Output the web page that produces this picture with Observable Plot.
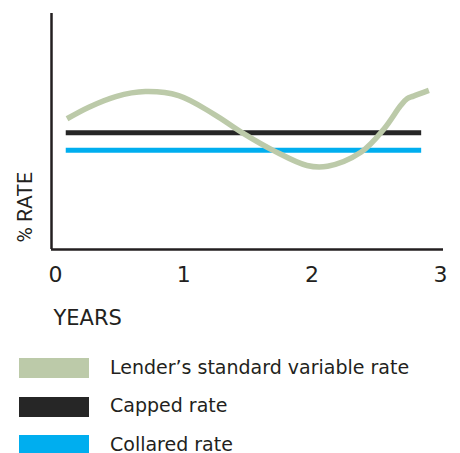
<!DOCTYPE html>
<html>
<head>
<meta charset="utf-8">
<script src="https://cdn.jsdelivr.net/npm/d3@7"></script>
<script src="https://cdn.jsdelivr.net/npm/@observablehq/plot@0.6"></script>
<style>
  html, body { margin: 0; padding: 0; background: #fff; }
  body { width: 460px; height: 453px; overflow: hidden; font-family: "DejaVu Sans", sans-serif; color: #231f20; }
  #legend { margin-top: 13px; }
  .row { display: flex; align-items: center; height: 20px; margin-bottom: 18.5px; }
  .row:last-child { margin-bottom: 0; }
  .sw { width: 70px; height: 20px; margin-left: 19px; margin-right: 21px; flex: none; }
  .lab { font-size: 19px; line-height: 15px; position: relative; top: -1px; }
</style>
</head>
<body>
<div id="chart"></div>
<div id="legend"></div>
<script>
// Data (rate in arbitrary units, 0–10 on the axis)
const seriesNames = ["Lender’s standard variable rate", "Capped rate", "Collared rate"];
const seriesColors = ["#bccaa9", "#262626", "#00aeef"];
const xTicks = [0, 1, 2, 3];

const svrYears = [0.09, 0.26, 0.47, 0.70, 0.96, 1.23, 1.47, 1.70, 1.96, 2.12, 2.38, 2.56, 2.69, 2.74, 2.79, 2.91];
const svrRates = [5.54, 6.03, 6.48, 6.69, 6.52, 5.75, 4.90, 4.19, 3.56, 3.53, 4.12, 5.11, 6.10, 6.39, 6.50, 6.74];

const cappedYears = [0.08, 2.85];
const cappedRates = [4.95, 4.95];

const collaredYears = [0.08, 2.85];
const collaredRates = [4.21, 4.21];

const svr = svrYears.map((x, i) => ({year: x, rate: svrRates[i]}));
const capped = cappedYears.map((x, i) => ({year: x, rate: cappedRates[i]}));
const collared = collaredYears.map((x, i) => ({year: x, rate: collaredRates[i]}));

const xMin = -0.031, xMax = 3.024;
const font = "'DejaVu Sans', sans-serif";
const ink = "#231f20";

const chart = Plot.plot({
  width: 460,
  height: 345,
  marginLeft: 51,
  marginRight: 17,
  marginTop: 13,
  marginBottom: 96,
  style: {fontFamily: font, color: ink, background: "#fff", overflow: "visible"},
  x: {domain: [xMin, xMax]},
  y: {domain: [0, 10]},
  marks: [
    Plot.axisX({ticks: xTicks, tickSize: 0, tickPadding: 17, fontSize: 22, label: null, tickFormat: d => String(d), fill: ink}),
    Plot.axisY({ticks: [], label: null}),
    Plot.ruleX([xMin], {stroke: "#231f20", strokeWidth: 2.5}),
    Plot.ruleY([0], {stroke: "#231f20", strokeWidth: 2.5}),
    Plot.lineY(capped, {x: "year", y: "rate", stroke: seriesColors[1], strokeWidth: 5, strokeLinecap: "butt"}),
    Plot.lineY(collared, {x: "year", y: "rate", stroke: seriesColors[2], strokeWidth: 5, strokeLinecap: "butt"}),
    Plot.lineY(svr, {x: "year", y: "rate", stroke: seriesColors[0], strokeWidth: 5.5, strokeLinecap: "butt", curve: "catmull-rom"}),
    Plot.text(["YEARS"], {frameAnchor: "bottom-left", textAnchor: "start", lineAnchor: "middle", dx: 2, dy: 69, fontSize: 21, fill: ink}),
    Plot.text(["% RATE"], {frameAnchor: "bottom-left", textAnchor: "start", lineAnchor: "middle", rotate: -90, dx: -26, dy: -7, fontSize: 21, fontFamily: "Roboto, sans-serif", fill: ink})
  ]
});
document.getElementById("chart").appendChild(chart);

const legend = document.getElementById("legend");
seriesNames.forEach((name, i) => {
  const row = document.createElement("div");
  row.className = "row";
  const sw = document.createElement("div");
  sw.className = "sw";
  sw.style.background = seriesColors[i];
  const lab = document.createElement("div");
  lab.className = "lab";
  lab.textContent = name;
  row.appendChild(sw);
  row.appendChild(lab);
  legend.appendChild(row);
});
</script>
</body>
</html>
